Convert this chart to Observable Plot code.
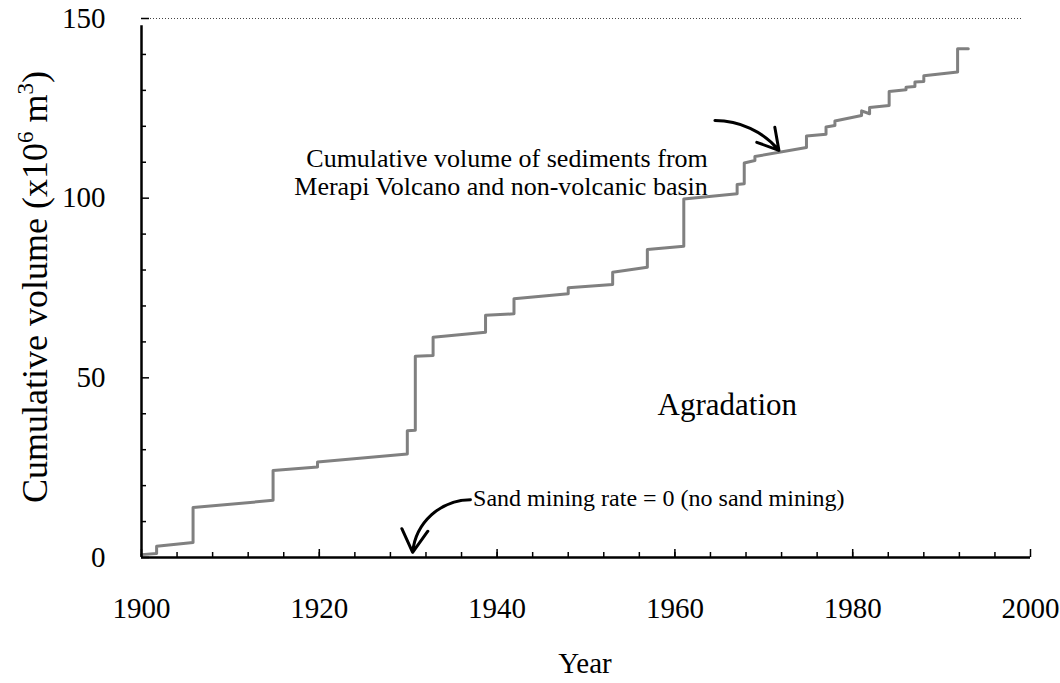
<!DOCTYPE html>
<html>
<head>
<meta charset="utf-8">
<script src="https://cdn.jsdelivr.net/npm/d3@7"></script>
<script src="https://cdn.jsdelivr.net/npm/@observablehq/plot@0.6"></script>
<style>
  html, body { margin: 0; padding: 0; background: #fff; }
  #chart svg { display: block; }
  #chart svg text { font-family: "Liberation Serif", "Times New Roman", serif; }
</style>
</head>
<body>
<div id="chart"></div>
<script>
// Cumulative volume (x10^6 m^3) breakpoints of the step curve
const years = [1900, 1901.7, 1901.7, 1905.8, 1905.8, 1914.8, 1914.8, 1919.8, 1919.8, 1929.9, 1929.9, 1930.8, 1930.8, 1932.8, 1932.8, 1938.7, 1938.7, 1941.9, 1941.9, 1948, 1948, 1953, 1953, 1956.9, 1956.9, 1961, 1961, 1967, 1967, 1967.8, 1967.8, 1969, 1969, 1974.8, 1974.8, 1977, 1977, 1978, 1978, 1981, 1981, 1981.9, 1981.9, 1984.1, 1984.1, 1986, 1986, 1987, 1987, 1988, 1988, 1991.8, 1991.8, 1993];
const volumes = [0.8, 1.1, 3.1, 4.2, 13.9, 15.9, 24.2, 25.2, 26.6, 28.8, 35.3, 35.4, 56.0, 56.2, 61.3, 62.7, 67.4, 67.8, 72.0, 73.4, 75.1, 76.0, 79.4, 80.8, 85.7, 86.6, 99.8, 101.2, 103.8, 104.0, 109.8, 110.5, 111.6, 114.1, 117.3, 117.8, 119.8, 120.2, 121.5, 123.0, 124.3, 123.5, 125.2, 125.8, 129.7, 130.2, 130.9, 131.1, 132.3, 132.5, 134.1, 135.1, 141.6, 141.6];

const xMajorTicks = [1900, 1920, 1940, 1960, 1980, 2000];
const xMinorTicks = d3.range(1904, 2000, 4);
const yMajorTicks = [0, 50, 100, 150];
const yMinorTicks = [10, 20, 30, 40, 60, 70, 80, 90, 110, 120, 130, 140];

// annotations
const labelAgradation = [{x: 1965.9, y: 42.3, text: "Agradation"}];
const labelSediment = [{x: 1963.7, y: 107.4, text: "Cumulative volume of sediments from\nMerapi Volcano and non-volcanic basin"}];
const labelMining = [{x: 1937.3, y: 16.4, text: "Sand mining rate = 0 (no sand mining)"}];
const arrowSediment = [{x1: 1964.5, y1: 121.6, x2: 1971.7, y2: 113.3}];
const arrowMining = [{x1: 1937.0, y1: 16.1, x2: 1930.5, y2: 1.4}];

const series = years.map((t, i) => ({year: t, volume: volumes[i]}));
const font = "Liberation Serif";

const svg = Plot.plot({
  width: 1060,
  height: 683,
  marginLeft: 141,
  marginRight: 30,
  marginTop: 18,
  marginBottom: 126,
  style: "font-family: 'Liberation Serif', serif; font-size: 29px; color: #000; background: #fff;",
  x: {domain: [1900, 2000]},
  y: {domain: [0, 150]},
  marks: [
    Plot.ruleY([150], {x1: 1900, x2: 1999, stroke: "#444", strokeWidth: 1, strokeDasharray: "1,2"}),
    Plot.line(series, {x: "year", y: "volume", stroke: "#808080", strokeWidth: 3}),
    Plot.axisX({ticks: xMinorTicks, tickSize: -5, tickFormat: () => "", strokeWidth: 1.5}),
    Plot.axisX({ticks: xMajorTicks, tickSize: -8, tickPadding: 48, tickFormat: d => String(d), strokeWidth: 1.5, fontSize: 29, fontFamily: font, fill: "#000", label: null}),
    Plot.axisY({ticks: yMinorTicks, tickSize: -5, tickFormat: () => "", strokeWidth: 1.5}),
    Plot.axisY({ticks: yMajorTicks, tickSize: -8, tickPadding: 44, tickFormat: d => String(d), strokeWidth: 1.5, fontSize: 29, fontFamily: font, fill: "#000", label: null}),
    Plot.ruleX([1900], {y1: 0, y2: 148, stroke: "#000", strokeWidth: 2.5}),
    Plot.ruleY([0], {stroke: "#000", strokeWidth: 2.5}),
    Plot.text(labelAgradation, {x: "x", y: "y", text: "text", fontSize: 31, fontFamily: font, fill: "#000"}),
    Plot.text(labelSediment, {x: "x", y: "y", text: "text", fontSize: 26, fontFamily: font, textAnchor: "end", lineHeight: 1.08, fill: "#000"}),
    Plot.text(labelMining, {x: "x", y: "y", text: "text", fontSize: 24, fontFamily: font, textAnchor: "start", fill: "#000"}),
    Plot.arrow(arrowSediment, {x1: "x1", y1: "y1", x2: "x2", y2: "y2", bend: 25, stroke: "#000", strokeWidth: 3, headLength: 14}),
    Plot.arrow(arrowMining, {x1: "x1", y1: "y1", x2: "x2", y2: "y2", bend: -42, stroke: "#000", strokeWidth: 3, headLength: 14})
  ]
});

const s = d3.select(svg);
s.append("text")
  .attr("x", 585).attr("y", 673)
  .attr("text-anchor", "middle")
  .attr("font-family", font).attr("font-size", 29)
  .text("Year");

const yt = s.append("text")
  .attr("transform", "translate(47,287) rotate(-90)")
  .attr("text-anchor", "middle")
  .attr("font-family", font).attr("font-size", 36);
yt.append("tspan").text("Cumulative volume (x10");
yt.append("tspan").attr("dy", -14).attr("font-size", 23).text("6");
yt.append("tspan").attr("dy", 14).text(" m");
yt.append("tspan").attr("dy", -14).attr("font-size", 23).text("3");
yt.append("tspan").attr("dy", 14).text(")");

document.getElementById("chart").appendChild(svg);
</script>
</body>
</html>
